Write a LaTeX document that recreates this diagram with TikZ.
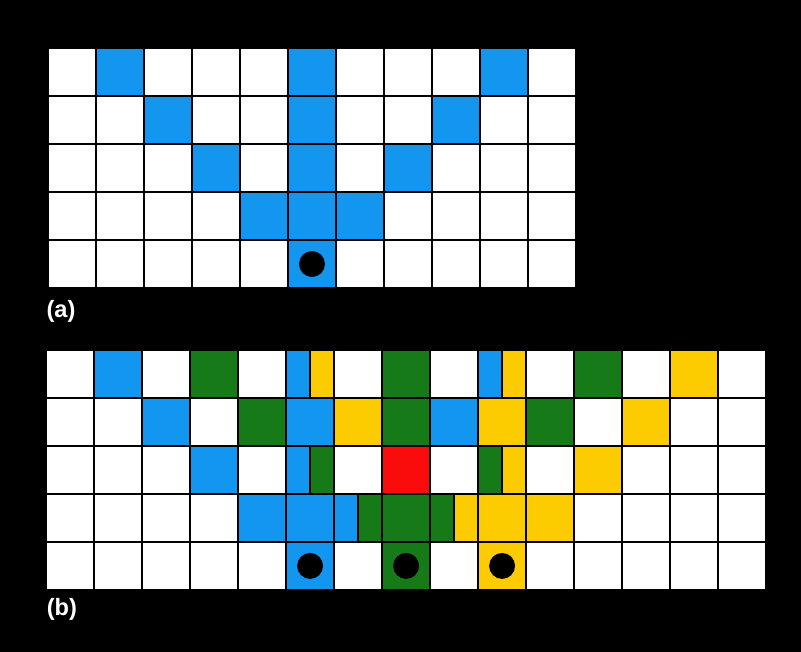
\documentclass[tikz,border=0pt]{standalone}
\usepackage{fontspec}
\setsansfont{Liberation Sans}
\usepackage{tikz}
\definecolor{CellBlue}{RGB}{18,150,240}
\definecolor{CellGreen}{RGB}{22,122,24}
\definecolor{CellYellow}{RGB}{252,204,0}
\definecolor{CellRed}{RGB}{250,12,12}
\begin{document}
\begin{tikzpicture}[x=1cm,y=-1cm,line width=1.6pt]
\tikzset{lbl/.style={text=white,font=\fontsize{14}{16}\selectfont\sffamily\bfseries,inner sep=0pt},
  dot/.style={fill=black}}
\useasboundingbox[fill=black] (-1,-1) rectangle (15.6875,12.583);
% grid (a)
\fill[white] (0,0) rectangle (11,5);
\foreach \c/\r in {1/0,5/0,9/0,2/1,5/1,8/1,3/2,5/2,7/2,4/3,5/3,6/3,5/4}
  \fill[CellBlue] (\c,\r) rectangle ++(1,1);
\draw (0,0) grid (11,5);
\fill[dot] (5.5,4.5) circle (0.27);
\node[lbl] (lbla) at (0.27,5.48) {(a)};
% grid (b)
\begin{scope}[shift={(-0.04,6.29)}]
\fill[white] (0,0) rectangle (15,5);
\foreach \c/\r/\col in {1/0/CellBlue,2/1/CellBlue,5/1/CellBlue,8/1/CellBlue,3/2/CellBlue,4/3/CellBlue,5/3/CellBlue,5/4/CellBlue,
  3/0/CellGreen,7/0/CellGreen,11/0/CellGreen,4/1/CellGreen,7/1/CellGreen,10/1/CellGreen,7/3/CellGreen,7/4/CellGreen,
  13/0/CellYellow,6/1/CellYellow,9/1/CellYellow,12/1/CellYellow,11/2/CellYellow,9/3/CellYellow,10/3/CellYellow,9/4/CellYellow,
  7/2/CellRed}
  \fill[\col] (\c,\r) rectangle ++(1,1);
% half cells
\foreach \c/\r/\lcol/\rcol in {5/0/CellBlue/CellYellow,9/0/CellBlue/CellYellow,5/2/CellBlue/CellGreen,
  9/2/CellGreen/CellYellow,6/3/CellBlue/CellGreen,8/3/CellGreen/CellYellow}{
  \fill[\lcol] (\c,\r) rectangle ++(0.5,1);
  \fill[\rcol] (\c+0.5,\r) rectangle ++(0.5,1);
  \draw (\c+0.5,\r) -- ++(0,1);
}
\draw (0,0) grid (15,5);
\foreach \c in {5,7,9}
  \fill[dot] (\c+0.5,4.5) circle (0.27);
\end{scope}
\node[lbl] (lblb) at (0.29,11.69) {(b)};
\end{tikzpicture}
\end{document}
